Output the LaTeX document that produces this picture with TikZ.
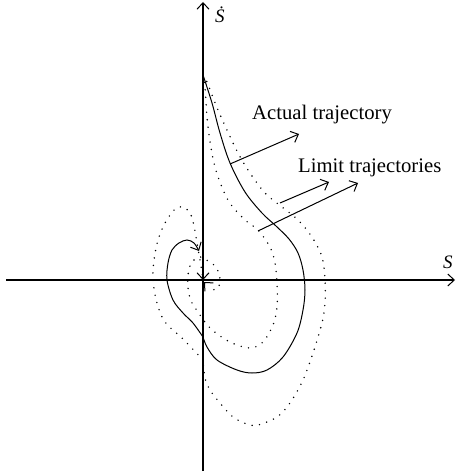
\documentclass[tikz,border=0pt]{standalone}
\usepackage{fontspec}
\setmainfont{Liberation Serif}
\usetikzlibrary{arrows.meta}
\tikzset{
  axisline/.style={line width=1.1pt},
  traj/.style={line width=1pt},
  limtraj/.style={line width=1.6pt, line cap=round, dash pattern=on 0pt off 7.5pt},
  barb/.style={-{Straight Barb[length=6.5pt,width=12pt,line width=1pt]}},
  lbl/.style={font=\fontsize{20.7}{24}\selectfont, inner sep=0pt, anchor=base west},
  axlbl/.style={font=\fontsize{19}{22}\selectfont\itshape, inner sep=0pt, anchor=base west},
  pointer/.style={line width=1pt, barb}
}
\begin{document}
\begin{tikzpicture}[x=1pt,y=-1pt]
\useasboundingbox (0,0) rectangle (457,473);
% axes
\coordinate (xl) at (6,280);
\coordinate (xr) at (455,280);
\coordinate (yb) at (203,471);
\coordinate (yt) at (203,2);
\draw[axisline, barb] (xl) -- (xr);
\draw[axisline, barb] (yb) -- (yt);
\node[axlbl] (slab) at (443,268) {S};
\node[axlbl] (sdot) at (215,23) {\.{S}};
% actual trajectory
\draw[traj] plot[smooth, tension=0.55] coordinates {(203,75) (212,103) (220,133) (230,163) (245,192) (262,213) (276,226) (289,239) (298,253) (303,270) (305,290) (303,310) (297,333) (283,357) (267,370) (252,373) (237,370) (217,360) (207,347) (203,337)};
\draw[traj, barb] plot[smooth, tension=0.55] coordinates {(203,337) (193,323) (183,313) (173,300) (167,280) (168,263) (172,250) (179,243) (187,240) (194,243) (199,251)};
% outer limit trajectory
\draw[limtraj] plot[smooth, tension=0.55] coordinates {(203,75) (207,82) (218,110) (235,147) (248,170) (265,193) (282,207) (298,220) (312,237) (322,257) (325,280) (325,303) (322,323) (313,353) (303,380) (290,403) (277,417) (258,425) (247,424) (233,417) (220,403) (210,390) (205,378) (203,360)};
\draw[limtraj] plot[smooth, tension=0.55] coordinates {(203,360) (183,339) (165,322) (157,303) (153,280) (154,260) (158,240) (165,223) (175,209) (183,207) (190,213) (194,226) (197,243) (200,260) (203,279)};
\coordinate (o1a) at (203,278.5);
\coordinate (o1b) at (203,280);
\draw[traj, barb] (o1a) -- (o1b);
% inner limit trajectory
\draw[limtraj] plot[smooth, tension=0.55] coordinates {(203,75) (205,87) (208,127) (215,167) (228,200) (245,220) (258,230) (270,247) (275,263) (277,283) (277,307) (273,325) (263,342) (250,348) (230,342) (210,328) (198,312) (191,301) (188,288) (188,275) (190,266) (195,259) (201,257) (208,261) (214,265) (218,271) (220,280) (218,288) (212,290)};
\coordinate (o2a) at (205,283);
\coordinate (o2b) at (204,282);
\draw[traj, barb] (o2a) -- (o2b);
% labels and pointers
\node[lbl] (lact) at (252,120) {Actual trajectory};
\node[lbl] (llim) at (298,172) {Limit trajectories};
\coordinate (pa1) at (230,164);
\coordinate (pa2) at (299,134);
\coordinate (pb1) at (280,203);
\coordinate (pb2) at (329,182);
\coordinate (pc1) at (258,231);
\coordinate (pc2) at (358,183);
\draw[pointer] (pa1) -- (pa2);
\draw[pointer] (pb1) -- (pb2);
\draw[pointer] (pc1) -- (pc2);
\end{tikzpicture}
\end{document}
